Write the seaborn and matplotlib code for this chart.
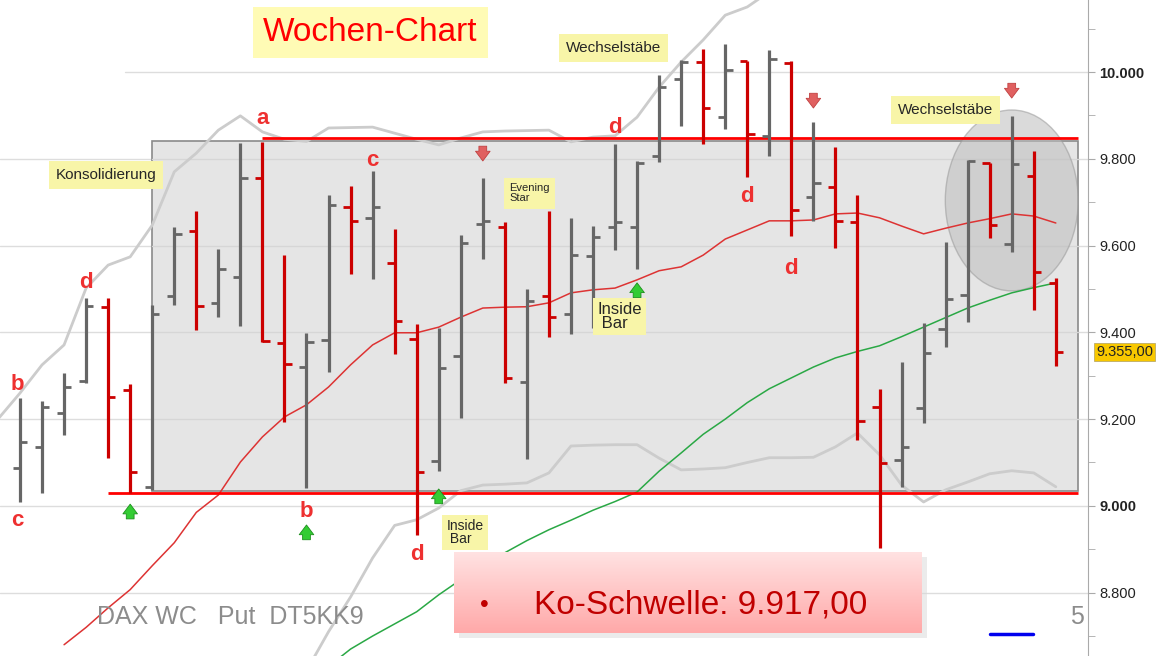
import seaborn as sns
import matplotlib.pyplot as plt
import numpy as np
import pandas as pd
from matplotlib.patches import Rectangle, Ellipse
from matplotlib.ticker import MultipleLocator, FuncFormatter
from matplotlib.colors import LinearSegmentedColormap

# Weekly OHLC bars (DAX)
opens = [9088, 9136, 9214, 9288, 9459, 9267, 9044, 9484, 9634, 9468,
         9528, 9756, 9376, 9320, 9382, 9689, 9664, 9560, 9385, 9104,
         9346, 9650, 9643, 9286, 9484, 9442, 9576, 9643, 9643, 9806,
         9984, 10023, 9896, 10025, 9853, 10021, 9712, 9735, 9654, 9228,
         9106, 9226, 9408, 9486, 9790, 9604, 9760, 9514]
highs = [9249, 9242, 9307, 9479, 9479, 9281, 9463, 9643, 9680, 9592,
         9836, 9839, 9578, 9399, 9717, 9737, 9772, 9638, 9419, 9410,
         9624, 9756, 9654, 9500, 9680, 9664, 9645, 9834, 9795, 9993,
         10028, 10053, 10065, 10025, 10051, 10025, 9885, 9827, 9717, 9270,
         9332, 9422, 9608, 9797, 9790, 9899, 9818, 9525]
lows = [9009, 9030, 9164, 9283, 9111, 9030, 9037, 9463, 9406, 9435,
        9415, 9378, 9194, 9041, 9309, 9535, 9523, 9350, 8933, 9081,
        9203, 9569, 9283, 9108, 9389, 9396, 9410, 9590, 9546, 9793,
        9876, 9834, 9869, 9758, 9806, 9622, 9657, 9594, 9152, 8903,
        9044, 9191, 9366, 9424, 9618, 9585, 9452, 9323]
closes = [9147, 9228, 9274, 9461, 9251, 9078, 9442, 9627, 9461, 9546,
          9756, 9380, 9327, 9378, 9694, 9657, 9689, 9426, 9078, 9318,
          9606, 9656, 9295, 9472, 9436, 9578, 9620, 9654, 9790, 9965,
          10023, 9917, 10005, 9857, 10030, 9682, 9744, 9657, 9196, 9099,
          9136, 9353, 9477, 9795, 9647, 9788, 9539, 9355]

# Indicator lines, week index -> value
ma_red_x = list(range(2, 48))
ma_red = [8680, 8720, 8765, 8807, 8862, 8915, 8985, 9025, 9101, 9159,
          9205, 9233, 9274, 9325, 9371, 9399, 9399, 9412, 9435, 9456,
          9458, 9459, 9468, 9491, 9498, 9502, 9521, 9542, 9551, 9578,
          9615, 9636, 9657, 9657, 9659, 9673, 9675, 9664, 9645, 9627,
          9640, 9652, 9662, 9673, 9668, 9652]
ma_green_x = list(range(14, 48))
ma_green = [8630, 8670, 8700, 8728, 8756, 8795, 8830, 8860, 8892, 8920,
            8945, 8967, 8990, 9010, 9032, 9080, 9122, 9165, 9200, 9238,
            9270, 9295, 9320, 9341, 9356, 9369, 9390, 9412, 9434, 9456,
            9474, 9491, 9503, 9514]
bb_up_x = list(range(-1, 35))
bb_up = [9200, 9260, 9325, 9371, 9502, 9555, 9574, 9647, 9770, 9813,
         9866, 9899, 9862, 9845, 9840, 9871, 9872, 9873, 9859, 9845,
         9832, 9848, 9862, 9864, 9865, 9866, 9839, 9850, 9853, 9896,
         9965, 10023, 10074, 10131, 10150, 10185]
bb_low_x = list(range(13, 48))
bb_low = [8620, 8710, 8790, 8880, 8955, 8968, 8995, 9035, 9048, 9050,
          9053, 9076, 9138, 9140, 9141, 9141, 9110, 9083, 9085, 9088,
          9100, 9111, 9111, 9112, 9136, 9168, 9118, 9048, 9009, 9037,
          9055, 9074, 9081, 9076, 9044]

df = pd.DataFrame({"Woche": range(len(opens)), "Open": opens, "High": highs,
                   "Low": lows, "Close": closes})
df["Farbe"] = np.where(df.Close >= df.Open, "#666666", "#cc0000")

sns.set_style("white")
plt.rcParams['font.family'] = ["Liberation Sans", "DejaVu Sans"]

fig = plt.figure(figsize=(11.63, 6.56), dpi=100)
ax = fig.add_axes([0, 0, 1088 / 1163, 1])
ax.set_xlim(-0.907, 48.46)
ax.set_ylim(8654, 10166)

# grid
for v in range(8800, 10001, 200):
    ax.axhline(v, xmin=0.115 if v == 10000 else 0, color="#dddddd", lw=1, zorder=0.5)

# consolidation box
ax.add_patch(Rectangle((6, 9035), 42, 806, fc="#e5e5e5", ec="#8a8a8a",
                       lw=1.2, zorder=1))
for v in range(9200, 9801, 200):
    ax.axhline(v, xmin=(6 + 0.907) / 49.367, xmax=(48 + 0.907) / 49.367,
               color="#d6d6d6", lw=1, zorder=1.1)
ax.add_patch(Ellipse((45, 9704), 6.03, 417, fc="#bdbdbd", alpha=0.55,
                     ec="#999999", lw=1, zorder=1.2))

# indicator lines
sns.lineplot(x=bb_up_x, y=bb_up, color="#cccccc", lw=2, ax=ax, zorder=2)
sns.lineplot(x=bb_low_x, y=bb_low, color="#cccccc", lw=2, ax=ax, zorder=2)
sns.lineplot(x=ma_red_x, y=ma_red, color="#dd3333", lw=1.1, ax=ax, zorder=2)
sns.lineplot(x=ma_green_x, y=ma_green, color="#2aa845", lw=1.1, ax=ax, zorder=2)

# support / resistance lines
ax.hlines(9848, 11, 48, color="#ff0000", lw=2, zorder=3)
ax.hlines(9030, 4, 48, color="#ff0000", lw=2, zorder=3)

# OHLC bars
tw = 0.33
ax.vlines(df.Woche, df.Low, df.High, colors=df.Farbe, lw=2.3, zorder=4)
ax.hlines(df.Open, df.Woche - tw, df.Woche, colors=df.Farbe, lw=2, zorder=4)
ax.hlines(df.Close, df.Woche, df.Woche + tw, colors=df.Farbe, lw=2, zorder=4)

# letters
letters = [("b", -0.1, 9279), ("c", -0.1, 8966), ("d", 3.0, 9516),
           ("a", 11.0, 9894), ("b", 13.0, 8986), ("c", 16.0, 9797),
           ("d", 18.0, 8887), ("d", 27.0, 9871), ("d", 33.0, 9714),
           ("d", 35.0, 9548)]
for t, x, y in letters:
    ax.text(x, y, t, color="#ee3030", fontsize=16, fontweight="bold",
            ha="center", va="center", zorder=6)

# arrows
style = "simple,head_width=0.75,head_length=0.5,tail_width=0.4"
arr_up = dict(arrowstyle=style, fc="#33cc33", ec="#1d8f1d", lw=0.6,
              shrinkA=0, shrinkB=0, mutation_scale=14)
arr_dn = dict(arrowstyle=style, fc="#e06060", ec="#c04040", lw=0.6,
              shrinkA=0, shrinkB=0, mutation_scale=14)
for x, y in [(5, 9004), (13, 8956), (19, 9039), (28, 9514)]:
    ax.annotate("", xy=(x, y), xytext=(x, y - 34), arrowprops=arr_up, zorder=6)
for x, y in [(21, 9795), (36, 9917), (45, 9940)]:
    ax.annotate("", xy=(x, y), xytext=(x, y + 34), arrowprops=arr_dn, zorder=6)

# yellow labels
box = dict(boxstyle="square,pad=0.45", fc="#f8f5a8", ec="none")
ax.text(3.9, 9763, "Konsolidierung", fontsize=11, ha="center", va="center",
        bbox=box, zorder=7)
ax.text(26.95, 10055, "Wechselstäbe", fontsize=11, ha="center", va="center",
        bbox=box, zorder=7)
ax.text(42.0, 9912, "Wechselstäbe", fontsize=11, ha="center", va="center",
        bbox=box, zorder=7)
ax.text(22.2, 9721, "Evening\nStar", fontsize=8, ha="left", va="center",
        linespacing=1.0, bbox=dict(boxstyle="square,pad=0.5", fc="#f8f5a8", ec="none"),
        zorder=7)
ax.text(26.2, 9436, "Inside\n Bar", fontsize=12, ha="left", va="center",
        linespacing=0.9, bbox=dict(boxstyle="square,pad=0.25", fc="#f8f5a8", ec="none"),
        zorder=7)
ax.text(19.35, 8938, "Inside\n Bar", fontsize=10, ha="left", va="center",
        linespacing=0.9, bbox=dict(boxstyle="square,pad=0.3", fc="#f8f5a8", ec="none"),
        zorder=7)
ax.text(15.9, 10090, "Wochen-Chart", fontsize=24, color="#ff0000",
        ha="center", va="center",
        bbox=dict(boxstyle="square,pad=0.3", fc="#fffbb5", ec="none"), zorder=7)

# right axis
sns.despine(ax=ax, left=True, top=True, bottom=True, right=False)
ax.spines["right"].set_color("#aaaaaa")
ax.yaxis.tick_right()
ax.yaxis.set_major_locator(MultipleLocator(200))
ax.yaxis.set_minor_locator(MultipleLocator(100))
ax.yaxis.set_major_formatter(FuncFormatter(lambda v, p: f"{int(v):,}".replace(",", ".")))
ax.tick_params(axis="y", which="both", direction="out", length=5, color="#aaaaaa",
               labelsize=10.5, labelcolor="#222222", pad=3)
ax.set_xticks([])
for lab in ax.get_yticklabels():
    if lab.get_text() in ("9.000", "10.000"):
        lab.set_fontweight("bold")
ax.set_ylabel("")

# current price marker
fig.text(1096 / 1163, 1 - 352 / 656, "9.355,00", fontsize=10.5, va="center",
         ha="left", color="#222222",
         bbox=dict(boxstyle="square,pad=0.15", fc="#f8c800", ec="#b0a060", lw=0.5))

# footer texts
fig.text(97 / 1163, 1 - 617 / 656, "DAX WC   Put  DT5KK9", fontsize=18,
         color="#8c8c8c", va="center")
fig.text(1070 / 1163, 1 - 617 / 656, "5", fontsize=18, color="#8c8c8c", va="center")
fig.add_artist(plt.Line2D([990 / 1163, 1033 / 1163], [1 - 634 / 656, 1 - 634 / 656],
                          color="#0000ee", lw=2.5))

# pink KO box with shadow
shadow = fig.add_axes([459 / 1163, (656 - 638) / 656, 468 / 1163, 81 / 656])
shadow.imshow(np.zeros((2, 2)), cmap="Greys", vmin=-1, vmax=3, aspect="auto", alpha=0.5)
shadow.axis("off")
kax = fig.add_axes([454 / 1163, (656 - 633) / 656, 468 / 1163, 81 / 656])
grad = np.linspace(0, 1, 100).reshape(-1, 1)
pink = LinearSegmentedColormap.from_list("pink", ["#ffe2e2", "#ffa9a9"])
kax.imshow(grad, cmap=pink, aspect="auto", extent=[0, 1, 0, 1], origin="upper")
kax.set_xlim(0, 1)
kax.set_ylim(0, 1)
kax.axis("off")
kax.text(0.055, 0.34, "•", fontsize=18, color="#c00000", va="center", ha="left")
kax.text(0.17, 0.34, "Ko-Schwelle: 9.917,00", fontsize=24, color="#c00000",
         va="center", ha="left")

fig.savefig("out.png", dpi=100)
